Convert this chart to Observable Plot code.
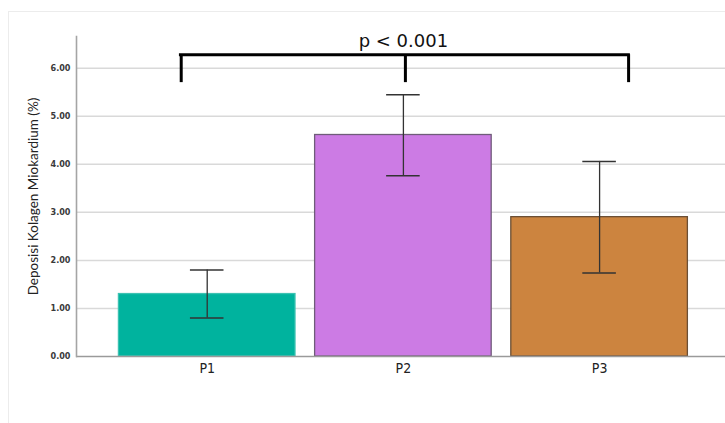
<!DOCTYPE html>
<html>
<head>
<meta charset="utf-8">
<script src="https://cdn.jsdelivr.net/npm/d3@7"></script>
<script src="https://cdn.jsdelivr.net/npm/@observablehq/plot@0.6"></script>
<style>
  html, body { margin: 0; padding: 0; background: #fff; }
  #wrap { position: relative; width: 725px; height: 423px; overflow: hidden; }
  #border { position: absolute; left: 8px; top: 11px; width: 800px; height: 500px;
            border-top: 1.5px solid #ececec; border-left: 1.5px solid #ececec; }
  #chart { position: absolute; left: 0; top: 0; }
</style>
</head>
<body>
<div id="wrap"><div id="border"></div><div id="chart"></div></div>
<script>
// ---- data ----
const groups = ["P1", "P2", "P3"];
const means = [1.30, 4.61, 2.90];
const lower = [0.80, 3.76, 1.74];
const upper = [1.80, 5.45, 4.06];
const yTicks = [0, 1, 2, 3, 4, 5, 6];
const yLabel = "Deposisi Kolagen Miokardium (%)";
const pText = "p < 0.001";
const bracketTop = 6.28;
const bracketBottom = 5.70;
const pTextY = 6.45;

const rows = groups.map((g, i) => ({group: g, mean: means[i], lo: lower[i], hi: upper[i]}));

const fills = ["#00b39e", "#cc7be4", "#cc843f"];
const strokes = {P1: "#3cc2b2", P2: "#6f5c79", P3: "#6b4f35"};
const tickFont = "'Liberation Sans Narrow', 'DejaVu Sans Condensed', 'Roboto', sans-serif";

const plot = Plot.plot({
  width: 725,
  height: 423,
  marginLeft: 76,
  marginRight: 0,
  marginTop: 36,
  marginBottom: 67,
  style: {background: "transparent", overflow: "visible"},
  x: {domain: groups, paddingInner: 0.1, paddingOuter: 0.204, align: 0.53, round: false},
  y: {domain: [0, 6.66]},
  color: {domain: groups, range: fills},
  marks: [
    Plot.gridY(yTicks.filter(d => d > 0), {stroke: "#d9d9d9", strokeOpacity: 1, strokeWidth: 1.5}),
    Plot.barY(rows, {x: "group", y: "mean", fill: "group",
      stroke: d => strokes[d.group], strokeWidth: 1.3}),
    Plot.ruleX(rows, {x: "group", y1: "lo", y2: "hi", stroke: "#333", strokeWidth: 1.3}),
    Plot.tickY(rows, {x: "group", y: "lo", stroke: "#333", strokeWidth: 1.5, insetLeft: 71.5, insetRight: 71.5}),
    Plot.tickY(rows, {x: "group", y: "hi", stroke: "#333", strokeWidth: 1.5, insetLeft: 71.5, insetRight: 71.5}),
    Plot.ruleY([0], {stroke: "#9a9a9a", strokeWidth: 1.6}),
    Plot.frame({anchor: "left", stroke: "#a5a5a5", strokeWidth: 1.6}),
    Plot.axisY({ticks: yTicks, tickFormat: d3.format(".2f"), tickSize: 0, tickPadding: 6,
      label: null, fontSize: 9, fontWeight: "bold", fill: "#3a3a3a", fontFamily: tickFont}),
    Plot.axisX({tickSize: 0, tickPadding: 7, label: null, fontSize: 14, fill: "#222", fontFamily: tickFont}),
    Plot.text([yLabel], {frameAnchor: "left", textAnchor: "middle", rotate: -90, dx: -43, fontSize: 13.5,
      fill: "#222", fontFamily: "Lato, 'Noto Sans', sans-serif"}),
    // significance bracket
    Plot.ruleY([bracketTop], {x1: () => "P1", x2: () => "P3", insetLeft: 62, insetRight: 59,
      stroke: "#000", strokeWidth: 3, strokeLinecap: "square"}),
    Plot.ruleX(["P1"], {x: d => d, y1: bracketBottom, y2: bracketTop, dx: -26, stroke: "#000", strokeWidth: 3}),
    Plot.ruleX(["P2"], {x: d => d, y1: bracketBottom, y2: bracketTop, dx: 2, stroke: "#000", strokeWidth: 3}),
    Plot.ruleX(["P3"], {x: d => d, y1: bracketBottom, y2: bracketTop, dx: 29, stroke: "#000", strokeWidth: 3}),
    Plot.text([pText], {x: () => "P2", y: () => pTextY, lineAnchor: "bottom", fontSize: 18,
      fill: "#111", fontFamily: "'DejaVu Sans', sans-serif"})
  ]
});
document.getElementById("chart").appendChild(plot);
</script>
</body>
</html>
